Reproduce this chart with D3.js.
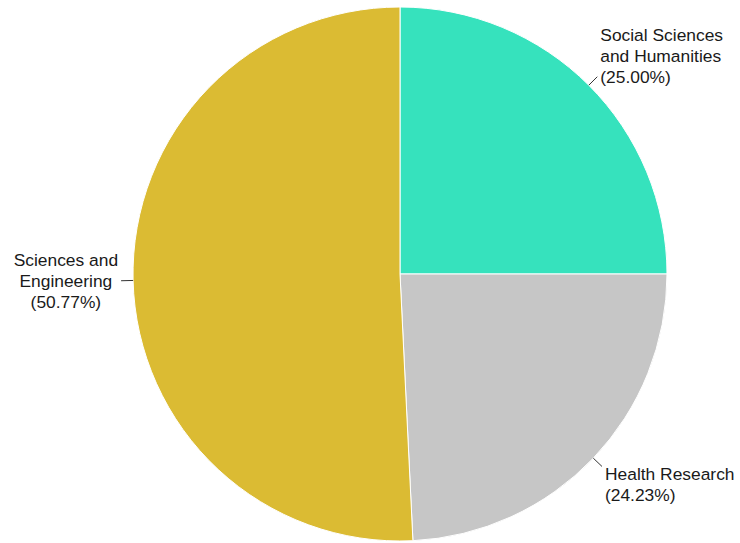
<!DOCTYPE html>
<html>
<head>
<meta charset="utf-8">
<script src="https://cdn.jsdelivr.net/npm/d3@7"></script>
<style>
  body { margin: 0; background: #fff; }
  text { font-family: "Liberation Sans", Arial, Helvetica, sans-serif; }
</style>
</head>
<body>
<svg id="chart" width="740" height="543"></svg>
<script>
// data
const categories = ["Social Sciences and Humanities", "Health Research", "Sciences and Engineering"];
const labelLines = [["Social Sciences", "and Humanities"], ["Health Research"], ["Sciences and", "Engineering"]];
const shares = [25.00, 24.23, 50.77];
const colors = ["#36e2bd", "#c6c6c6", "#dbbb33"];

const svg = d3.select("#chart");
const cx = 400, cy = 274, r = 267;
const fontSize = 17.4, lineH = 21;

const data = categories.map((c, i) => ({ name: c, lines: labelLines[i], value: shares[i], color: colors[i] }));

const pie = d3.pie().value(d => d.value).sort(null);
const arc = d3.arc().innerRadius(0).outerRadius(r);

const g = svg.append("g").attr("transform", `translate(${cx},${cy})`);
const arcs = pie(data);

g.selectAll("path.slice")
  .data(arcs)
  .join("path")
  .attr("class", "slice")
  .attr("d", arc)
  .attr("fill", d => d.data.color)
  .attr("stroke", "#fff")
  .attr("stroke-width", 1);

// labels with little connector lines
arcs.forEach((d, i) => {
  const a = (d.startAngle + d.endAngle) / 2;
  const sx = Math.sin(a), sy = -Math.cos(a);
  const p0 = [sx * r, sy * r];
  const p1 = [sx * (r + 12), sy * (r + 12)];
  g.append("line")
    .attr("x1", p0[0]).attr("y1", p0[1])
    .attr("x2", p1[0]).attr("y2", p1[1])
    .attr("stroke", "#333").attr("stroke-width", 1);

  const lines = d.data.lines.concat([`(${d.data.value.toFixed(2)}%)`]);
  let firstMid;
  const c = Math.cos(a);
  if (Math.abs(c) < 0.3) firstMid = p1[1] - (lines.length - 1) * lineH / 2;
  else if (c > 0) firstMid = p1[1] - (lines.length - 1) * lineH;
  else firstMid = p1[1] + 7;

  const t = g.append("text")
    .attr("font-size", fontSize)
    .attr("fill", "#1a1a1a");
  const spans = lines.map((ln, k) => t.append("tspan")
      .attr("y", firstMid + k * lineH)
      .attr("dy", "0.35em")
      .text(ln));

  if (sx >= 0) {
    t.attr("text-anchor", "start");
    spans.forEach(s => s.attr("x", p1[0] + 3));
  } else {
    // left side: lines centred in a block that ends at the connector
    const maxW = d3.max(spans, s => s.node().getComputedTextLength());
    t.attr("text-anchor", "middle");
    spans.forEach(s => s.attr("x", p1[0] - 3 - maxW / 2));
  }
});
</script>
</body>
</html>
